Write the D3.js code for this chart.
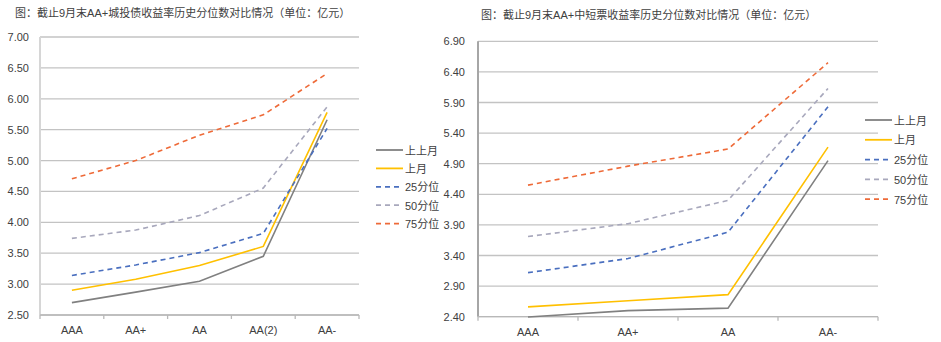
<!DOCTYPE html>
<html><head><meta charset="utf-8">
<script src="https://cdn.jsdelivr.net/npm/d3@7"></script>
<style>
body{margin:0;background:#fff;}
text{font-family:"Liberation Sans","Noto Sans CJK SC",sans-serif;}
</style></head>
<body><svg id="c" width="941" height="342"></svg>
<script>
// ---- data ----
const seriesNames = ["上上月","上月","25分位","50分位","75分位"];
const leftTitle = "图：截止9月末AA+城投债收益率历史分位数对比情况（单位：亿元）";
const leftCats = ["AAA","AA+","AA","AA(2)","AA-"];
const leftTicks = [2.5,3.0,3.5,4.0,4.5,5.0,5.5,6.0,6.5,7.0];
const left_s1 = [2.70,2.87,3.045,3.45,5.66];
const left_s2 = [2.90,3.08,3.30,3.61,5.78];
const left_p25 = [3.14,3.31,3.51,3.82,5.52];
const left_p50 = [3.74,3.875,4.11,4.555,5.87];
const left_p75 = [4.705,5.00,5.41,5.74,6.41];

const rightTitle = "图：截止9月末AA+中短票收益率历史分位数对比情况（单位：亿元）";
const rightCats = ["AAA","AA+","AA","AA-"];
const rightTicks = [2.4,2.9,3.4,3.9,4.4,4.9,5.4,5.9,6.4,6.9];
const right_s1 = [2.395,2.50,2.54,4.95];
const right_s2 = [2.56,2.66,2.76,5.17];
const right_p25 = [3.12,3.35,3.78,5.83];
const right_p50 = [3.71,3.92,4.30,6.13];
const right_p75 = [4.55,4.86,5.14,6.55];

// ---- styles ----
const styles = [
  {color:"#808080", dash:null},
  {color:"#ffc000", dash:null},
  {color:"#4a6fbf", dash:"5,4"},
  {color:"#a8a8bc", dash:"5,4"},
  {color:"#ee6a38", dash:"5,4"}
];

const svg = d3.select("#c");

function drawChart(cfg){
  const g = svg.append("g");
  g.append("text").attr("x",cfg.titleX).attr("y",cfg.titleY)
    .attr("font-size",11).attr("fill","#404040")
    .attr("font-family","'Noto Sans CJK SC',sans-serif")
    .text(cfg.title);
  const x = d3.scaleBand().domain(cfg.cats).range([cfg.x0,cfg.x1]);
  const y = d3.scaleLinear().domain([cfg.ticks[0],cfg.ticks[cfg.ticks.length-1]]).range([cfg.y0,cfg.y1]);
  // gridlines
  g.selectAll(".grid").data(cfg.ticks).join("line")
    .attr("x1",cfg.x0).attr("x2",cfg.x1)
    .attr("y1",d=>y(d)).attr("y2",d=>y(d))
    .attr("stroke","#c3c3c3").attr("stroke-width",1.3);
  // y axis
  const ya = d3.axisLeft(y).tickValues(cfg.ticks).tickFormat(d3.format(".2f")).tickSize(0).tickPadding(cfg.tickPad);
  const yg = g.append("g").attr("transform",`translate(${cfg.x0},0)`).call(ya);
  yg.select(".domain").remove();
  yg.selectAll("text").attr("font-size",11).attr("fill","#404040").attr("font-family","'Liberation Sans',sans-serif");
  g.append("line").attr("x1",cfg.x0).attr("x2",cfg.x0).attr("y1",cfg.y1).attr("y2",cfg.y0)
    .attr("stroke",cfg.axisColor).attr("stroke-width",2);
  // x axis
  g.append("line").attr("x1",cfg.x0).attr("x2",cfg.x1).attr("y1",cfg.y0).attr("y2",cfg.y0)
    .attr("stroke","#b8b8b8").attr("stroke-width",1.3);
  const edges = cfg.cats.map(c=>x(c)).concat([cfg.x1]);
  g.selectAll(".tk").data(edges).join("line")
    .attr("x1",d=>d).attr("x2",d=>d).attr("y1",cfg.y0).attr("y2",cfg.y0+4)
    .attr("stroke","#b8b8b8").attr("stroke-width",1.3);
  g.selectAll(".xl").data(cfg.cats).join("text")
    .attr("x",d=>x(d)+x.bandwidth()/2).attr("y",cfg.y0+19)
    .attr("text-anchor","middle").attr("font-size",11).attr("fill","#404040")
    .text(d=>d);
  // lines
  const line = d3.line().x((d,i)=>x(cfg.cats[i])+x.bandwidth()/2).y(d=>y(d));
  cfg.series.forEach((s,i)=>{
    g.append("path").attr("d",line(s)).attr("fill","none")
      .attr("stroke",styles[i].color).attr("stroke-width",1.6)
      .attr("stroke-dasharray",styles[i].dash);
  });
  // legend
  seriesNames.forEach((n,i)=>{
    const ly = cfg.legY + i*cfg.legStep;
    g.append("line").attr("x1",cfg.legX).attr("x2",cfg.legX+27).attr("y1",ly).attr("y2",ly)
      .attr("stroke",styles[i].color).attr("stroke-width",1.8)
      .attr("stroke-dasharray",styles[i].dash);
    g.append("text").attr("x",cfg.legX+29).attr("y",ly+4.5)
      .attr("font-size",11).attr("fill","#404040")
      .attr("font-family","'Liberation Sans','Noto Sans CJK SC',sans-serif")
      .text(n);
  });
}

drawChart({title:leftTitle,titleX:15,titleY:17,cats:leftCats,ticks:leftTicks,
  x0:40,x1:359,y0:315,y1:37,tickPad:11,axisColor:"#d6d6d6",
  series:[left_s1,left_s2,left_p25,left_p50,left_p75],
  legX:376,legY:150,legStep:18.4});
drawChart({title:rightTitle,titleX:481,titleY:19,cats:rightCats,ticks:rightTicks,
  x0:478,x1:878,y0:316.7,y1:41.3,tickPad:13,axisColor:"#a6a6a6",
  series:[right_s1,right_s2,right_p25,right_p50,right_p75],
  legX:865,legY:120,legStep:19.8});
</script></body></html>
